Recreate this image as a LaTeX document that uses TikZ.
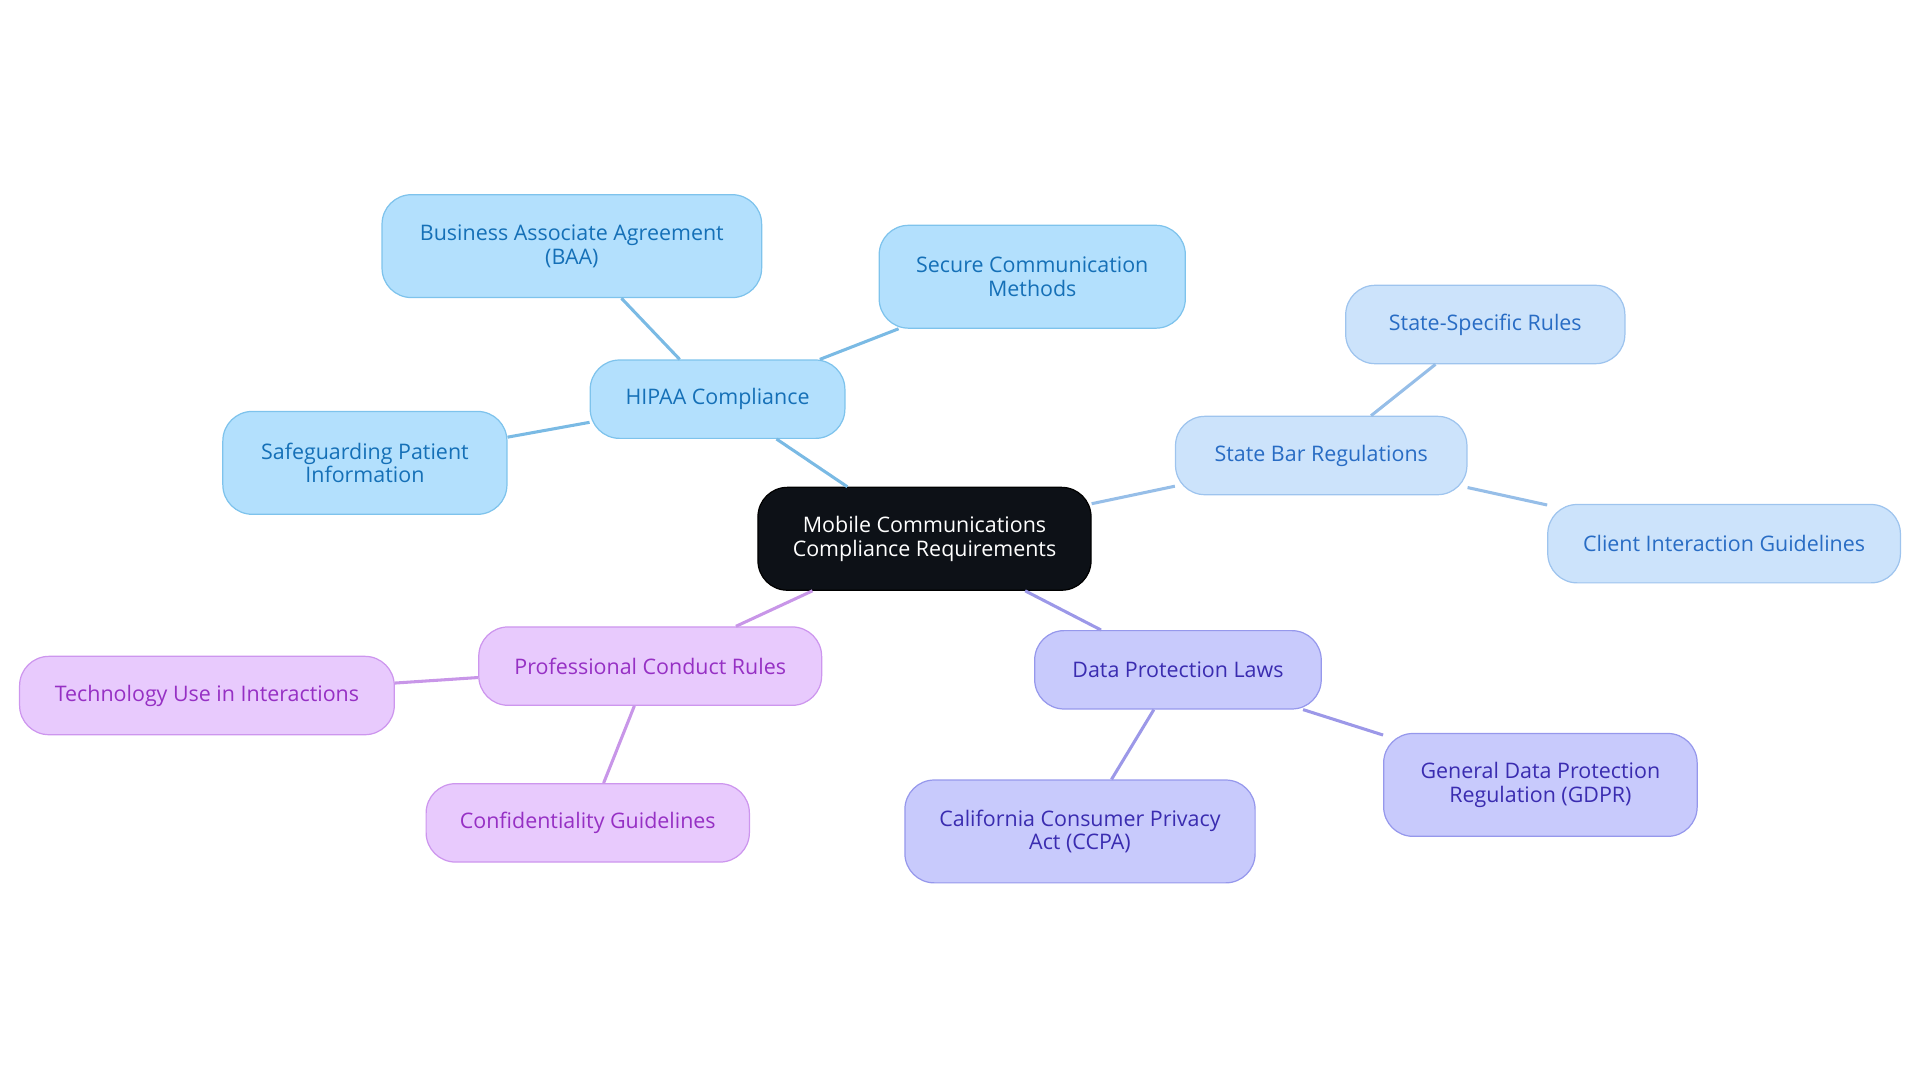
\documentclass[tikz,border=0pt]{standalone}
\usepackage{fontspec}
\setmainfont{Open Sans}
\definecolor{rootf}{RGB}{13,17,23}
\definecolor{hf}{RGB}{179,224,253}\definecolor{hd}{RGB}{126,195,236}\definecolor{ht}{RGB}{21,112,183}\definecolor{he}{RGB}{122,186,228}
\definecolor{sf}{RGB}{204,227,251}\definecolor{sd}{RGB}{158,196,238}\definecolor{st}{RGB}{40,108,196}\definecolor{se}{RGB}{150,190,232}
\definecolor{df}{RGB}{200,202,252}\definecolor{dd}{RGB}{150,152,236}\definecolor{dt}{RGB}{58,44,176}\definecolor{de}{RGB}{156,152,232}
\definecolor{pf}{RGB}{232,202,253}\definecolor{pd}{RGB}{205,150,238}\definecolor{pt}{RGB}{150,48,196}\definecolor{pe}{RGB}{200,150,232}
\begin{document}
\begin{tikzpicture}[x=1pt,y=-1pt,
 base/.style={rounded corners=24pt,draw,line width=1pt,align=center,font=\fontsize{17.5}{19.5}\selectfont,inner sep=0pt},
 root/.style={base,fill=rootf,draw=black,text=white},
 hb/.style={base,fill=hf,draw=hd,text=ht},
 sb/.style={base,fill=sf,draw=sd,text=st},
 db/.style={base,fill=df,draw=dd,text=dt},
 pb/.style={base,fill=pf,draw=pd,text=pt},
 eh/.style={line width=2.5pt,draw=he},
 es/.style={line width=2.5pt,draw=se},
 ed/.style={line width=2.5pt,draw=de},
 ep/.style={line width=2.5pt,draw=pe}]
\useasboundingbox (0,0) rectangle (1568,884);
\def\nd#1#2#3#4#5#6#7{\node[#1,minimum width=#5pt,minimum height=#6pt] (#2) at (#3,#4) {#7};}
\nd{root}{c}{755}{440}{272}{84}{Mobile Communications\\Compliance Requirements}
\nd{hb}{h}{586}{326}{208}{64}{HIPAA Compliance}
\nd{hb}{baa}{467}{201}{310}{84}{Business Associate Agreement\\(BAA)}
\nd{hb}{sec}{843}{226}{250}{84}{Secure Communication\\Methods}
\nd{hb}{saf}{298}{378}{232}{84}{Safeguarding Patient\\Information}
\nd{sb}{s}{1079}{372}{238}{64}{State Bar Regulations}
\nd{sb}{ss}{1213}{265}{228}{64}{State-Specific Rules}
\nd{sb}{cl}{1408}{444}{288}{64}{Client Interaction Guidelines}
\nd{db}{d}{962}{547}{234}{64}{Data Protection Laws}
\nd{db}{ca}{882}{679}{286}{84}{California Consumer Privacy\\Act (CCPA)}
\nd{db}{gd}{1258}{641}{256}{84}{General Data Protection\\Regulation (GDPR)}
\nd{pb}{p}{531}{544}{280}{64}{Professional Conduct Rules}
\nd{pb}{te}{169}{568}{306}{64}{Technology Use in Interactions}
\nd{pb}{co}{480}{672}{264}{64}{Confidentiality Guidelines}
\path[eh] (c) -- (h) (h) -- (baa) (h) -- (sec) (h) -- (saf);
\path[es] (c) -- (s) (s) -- (ss) (s) -- (cl);
\path[ed] (c) -- (d) (d) -- (ca) (d) -- (gd);
\path[ep] (c) -- (p) (p) -- (te) (p) -- (co);
\end{tikzpicture}
\end{document}
